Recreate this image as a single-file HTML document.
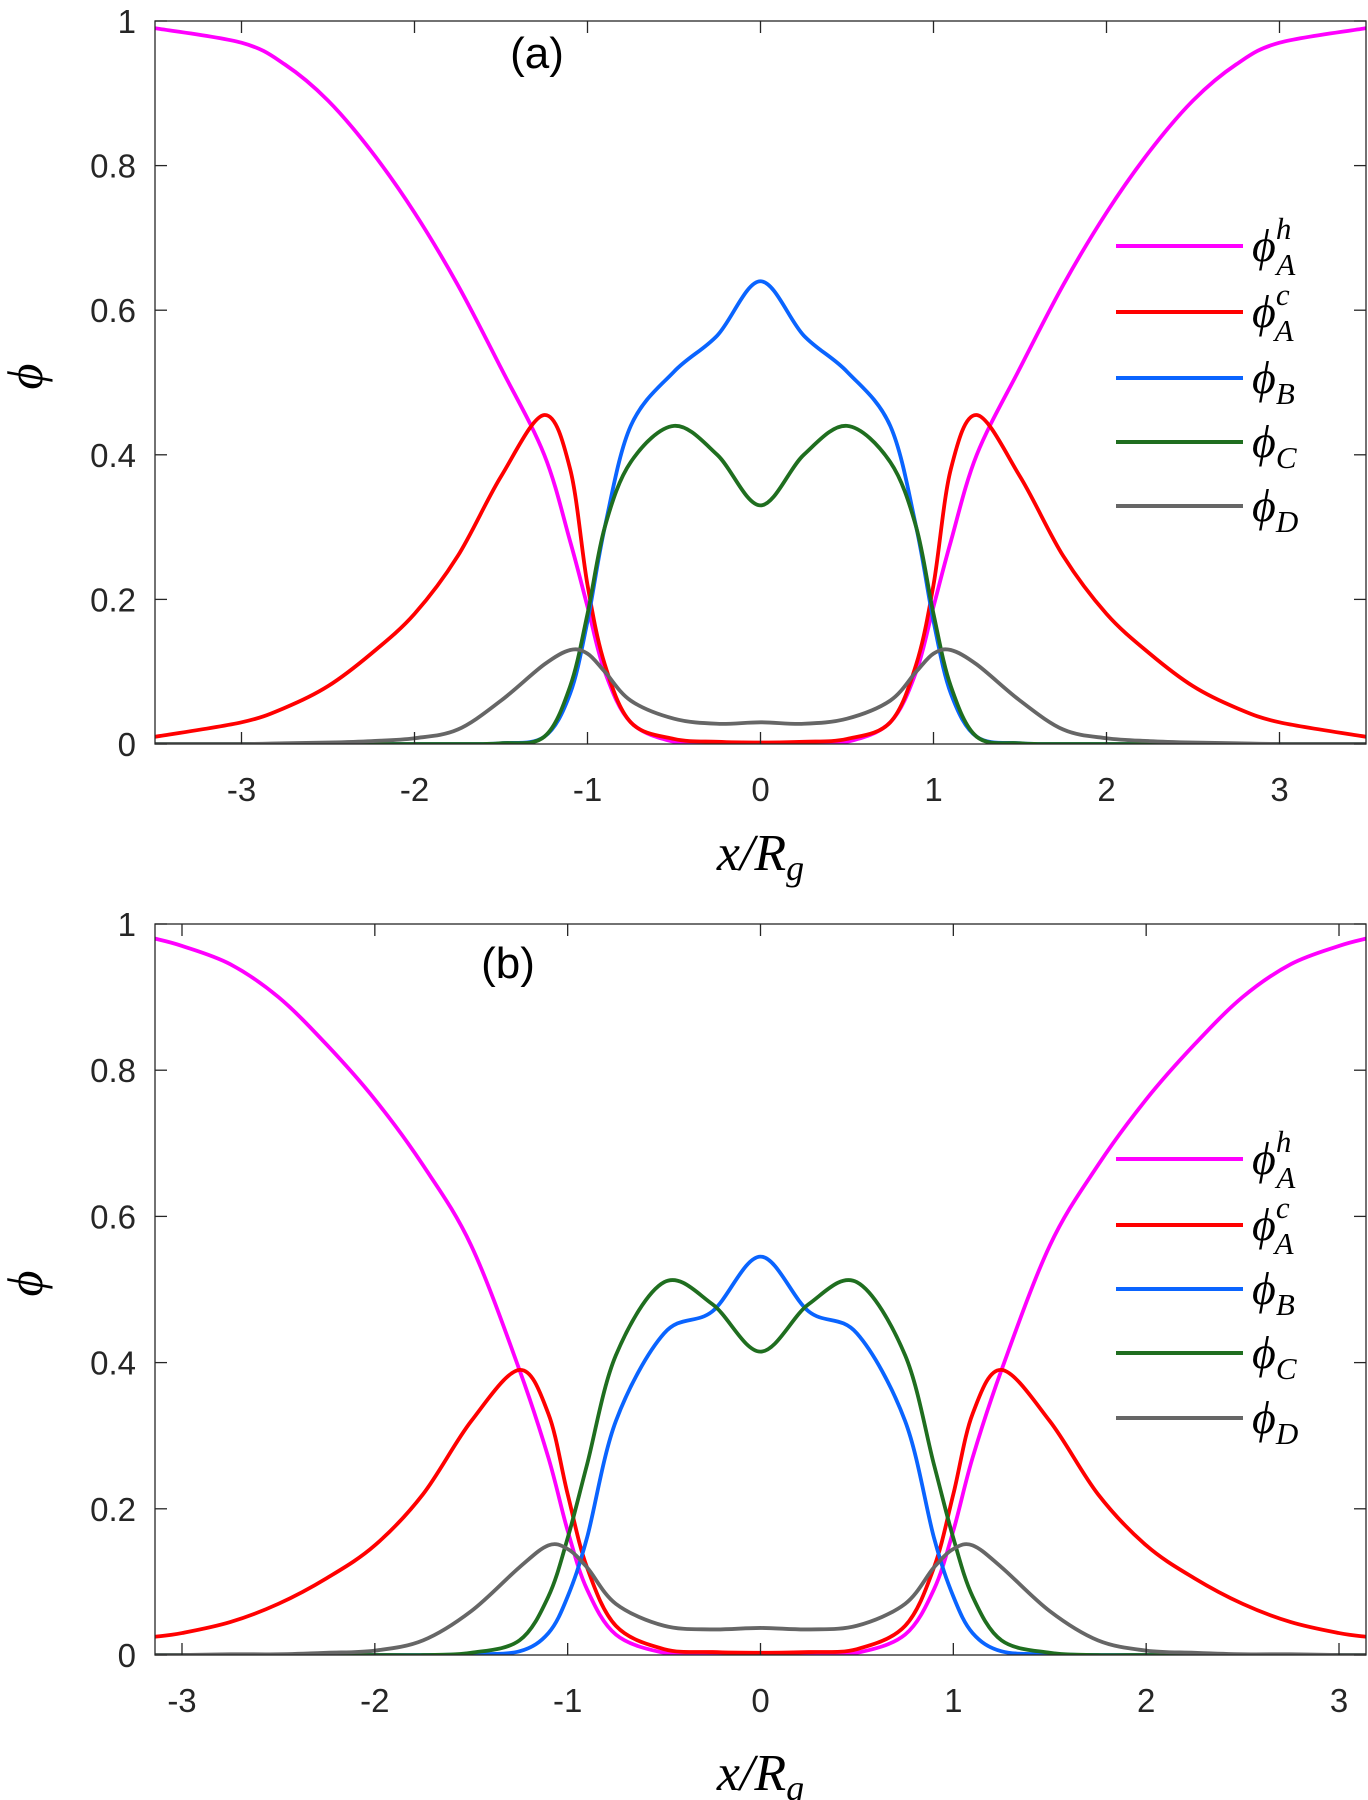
<!DOCTYPE html>
<html><head><meta charset="utf-8"><style>
body{margin:0;background:#fff}
svg{display:block}
text{font-family:"Liberation Sans",sans-serif;fill:#262626}
.math{font-family:"Liberation Serif",serif;font-style:italic;fill:#000}
</style></head><body>
<svg id="fig" width="1368" height="1800" viewBox="0 0 1368 1800"></svg>
<script>
const xsA=[-3.5,-3,-2.75,-2.5,-2.25,-2,-1.75,-1.5,-1.25,-1.1,-1,-0.9,-0.75,-0.5,-0.25,0,0.25,0.5,0.75,0.9,1,1.1,1.25,1.5,1.75,2,2.25,2.5,2.75,3,3.5];
const hA_a=[0.99,0.97,0.94,0.89,0.82,0.735,0.635,0.52,0.40,0.28,0.19,0.1,0.03,0.003,0,0,0,0.003,0.03,0.1,0.19,0.28,0.40,0.52,0.635,0.735,0.82,0.89,0.94,0.97,0.99];
const cA_a=[0.01,0.03,0.05,0.08,0.125,0.18,0.26,0.37,0.455,0.38,0.22,0.11,0.03,0.007,0.003,0.002,0.003,0.007,0.03,0.11,0.22,0.38,0.455,0.37,0.26,0.18,0.125,0.08,0.05,0.03,0.01];
const B_a=[0,0,0,0,0,0,0,0.001,0.01,0.07,0.17,0.3,0.44,0.515,0.565,0.64,0.565,0.515,0.44,0.3,0.17,0.07,0.01,0.001,0,0,0,0,0,0,0];
const C_a=[0,0,0,0,0,0,0,0.001,0.01,0.08,0.18,0.3,0.39,0.44,0.40,0.33,0.40,0.44,0.39,0.3,0.18,0.08,0.01,0.001,0,0,0,0,0,0,0];
const D_a=[0,0,0.001,0.002,0.004,0.008,0.02,0.06,0.11,0.13,0.125,0.10,0.06,0.035,0.028,0.03,0.028,0.035,0.06,0.10,0.125,0.13,0.11,0.06,0.02,0.008,0.004,0.002,0.001,0,0];
const xsB=[-3.14,-3,-2.75,-2.5,-2.25,-2,-1.75,-1.5,-1.25,-1.1,-1,-0.9,-0.75,-0.5,-0.25,0,0.25,0.5,0.75,0.9,1,1.1,1.25,1.5,1.75,2,2.25,2.5,2.75,3,3.14];
const hA_b=[0.98,0.97,0.945,0.9,0.835,0.76,0.67,0.56,0.39,0.27,0.17,0.09,0.028,0.003,0,0,0,0.003,0.028,0.09,0.17,0.27,0.39,0.56,0.67,0.76,0.835,0.9,0.945,0.97,0.98];
const cA_b=[0.025,0.03,0.045,0.07,0.105,0.15,0.22,0.32,0.39,0.33,0.22,0.12,0.04,0.008,0.004,0.003,0.004,0.008,0.04,0.12,0.22,0.33,0.39,0.32,0.22,0.15,0.105,0.07,0.045,0.03,0.025];
const B_b=[0,0,0,0,0,0,0,0.001,0.005,0.03,0.08,0.16,0.32,0.44,0.47,0.545,0.47,0.44,0.32,0.16,0.08,0.03,0.005,0.001,0,0,0,0,0,0,0];
const C_b=[0,0,0,0,0,0,0,0.003,0.02,0.08,0.16,0.26,0.41,0.51,0.48,0.415,0.48,0.51,0.41,0.26,0.16,0.08,0.02,0.003,0,0,0,0,0,0,0];
const D_b=[0,0,0.001,0.001,0.003,0.006,0.02,0.06,0.12,0.15,0.145,0.12,0.07,0.04,0.035,0.037,0.035,0.04,0.07,0.12,0.145,0.15,0.12,0.06,0.02,0.006,0.003,0.001,0.001,0,0];
const yTicks=[0,0.2,0.4,0.6,0.8,1];
const yTickLabels=["0","0.2","0.4","0.6","0.8","1"];
const xTicks=[-3,-2,-1,0,1,2,3];
const legendLabels=[["h","A"],["c","A"],["","B"],["","C"],["","D"]];
const colors=["#ff00ff","#ff0000","#0a64ff","#1f6e1f","#666666"];
const NS="http://www.w3.org/2000/svg";
const svg=document.getElementById('fig');
function mk(tag,attrs,parent){const e=document.createElementNS(NS,tag);for(const k in attrs)e.setAttribute(k,attrs[k]);(parent||svg).appendChild(e);return e;}
function path(pts){let d=`M${pts[0][0]},${pts[0][1]}`;for(let i=0;i<pts.length-1;i++){const p0=pts[Math.max(0,i-1)],p1=pts[i],p2=pts[i+1],p3=pts[Math.min(pts.length-1,i+2)];
d+=` C${p1[0]+(p2[0]-p0[0])/6},${p1[1]+(p2[1]-p0[1])/6} ${p2[0]-(p3[0]-p1[0])/6},${p2[1]-(p3[1]-p1[1])/6} ${p2[0]},${p2[1]}`;}return d;}
function panel(cfg){
 const L=155,R=1366,T=cfg.top,Bm=cfg.bot;
 const sx=v=>L+(v-cfg.xmin)/(cfg.xmax-cfg.xmin)*(R-L);
 const sy=v=>Bm-(v)*(Bm-T);
 const g=mk('g',{});
 
 
 const clip=mk('clipPath',{id:'clip'+cfg.id},g);mk('rect',{x:L,y:T,width:R-L,height:Bm-T},clip);
 const cg=mk('g',{'clip-path':`url(#clip${cfg.id})`},g);
 cfg.series.forEach((s,i)=>{const pts=cfg.xs.map((x,j)=>[sx(x),sy(s[j])]);
  const p=mk('path',{d:path(pts),fill:'none',stroke:colors[i],'stroke-width':3.8,'stroke-linejoin':'round'},cg);
  
  });
 mk('rect',{x:L,y:T,width:R-L,height:Bm-T,fill:'none',stroke:'#262626','stroke-width':1.3},g);
 yTicks.forEach((v,i)=>{mk('line',{x1:L,x2:L+12,y1:sy(v),y2:sy(v),stroke:'#262626','stroke-width':1.3},g);
  mk('line',{x1:R,x2:R-12,y1:sy(v),y2:sy(v),stroke:'#262626','stroke-width':1.3},g);
  const t=mk('text',{x:136,y:sy(v)+12,'text-anchor':'end','font-size':33},g);t.textContent=yTickLabels[i];
  });
 xTicks.forEach(v=>{mk('line',{x1:sx(v),x2:sx(v),y1:Bm,y2:Bm-12,stroke:'#262626','stroke-width':1.3},g);
  mk('line',{x1:sx(v),x2:sx(v),y1:T,y2:T+12,stroke:'#262626','stroke-width':1.3},g);
  const t=mk('text',{x:sx(v),y:Bm+57,'text-anchor':'middle','font-size':33},g);t.textContent=String(v);
  });
 const xl=mk('text',{x:sx(0),y:cfg.xlabY,'text-anchor':'middle','font-size':52,class:'math'},g);
 xl.innerHTML='x/R<tspan font-size="36" dy="10">g</tspan>';
 
 const yl=mk('text',{x:34,y:(T+Bm)/2+14,'text-anchor':'middle','font-size':50,class:'math',transform:`rotate(-90 28 ${(T+Bm)/2})`},g);
 yl.textContent='ϕ';
 const pl=mk('text',{x:cfg.lblX,y:cfg.lblY,'text-anchor':'middle','font-size':44},g);pl.textContent='('+cfg.id+')';
 pl.style.fill='#000';
 cfg.legY.forEach((y,i)=>{const lg=mk('g',{},g);
  
  mk('line',{x1:1116,x2:1243,y1:y,y2:y,stroke:colors[i],'stroke-width':4},lg);
  const t=mk('text',{x:1252,y:y+15,'font-size':46,class:'math'},lg);
  const [sup,sub]=legendLabels[i];
  t.innerHTML='ϕ'+(sup?`<tspan font-size="31" dy="-22">${sup}</tspan><tspan font-size="31" dx="-15" dy="36">${sub}</tspan>`:`<tspan font-size="31" dy="11">${sub}</tspan>`);});
}
const names=['phiAh','phiAc','phiB','phiC','phiD'];
panel({id:'a',top:21,bot:744,xmin:-3.5,xmax:3.5,xs:xsA,series:[hA_a,cA_a,B_a,C_a,D_a],names,xlabY:870,lblX:537,lblY:68,legY:[246,312,378,442,506]});
panel({id:'b',top:924,bot:1655,xmin:-3.14,xmax:3.14,xs:xsB,series:[hA_b,cA_b,B_b,C_b,D_b],names,xlabY:1790,lblX:508,lblY:978,legY:[1159,1225,1289,1353,1418]});
</script>
</body></html>
